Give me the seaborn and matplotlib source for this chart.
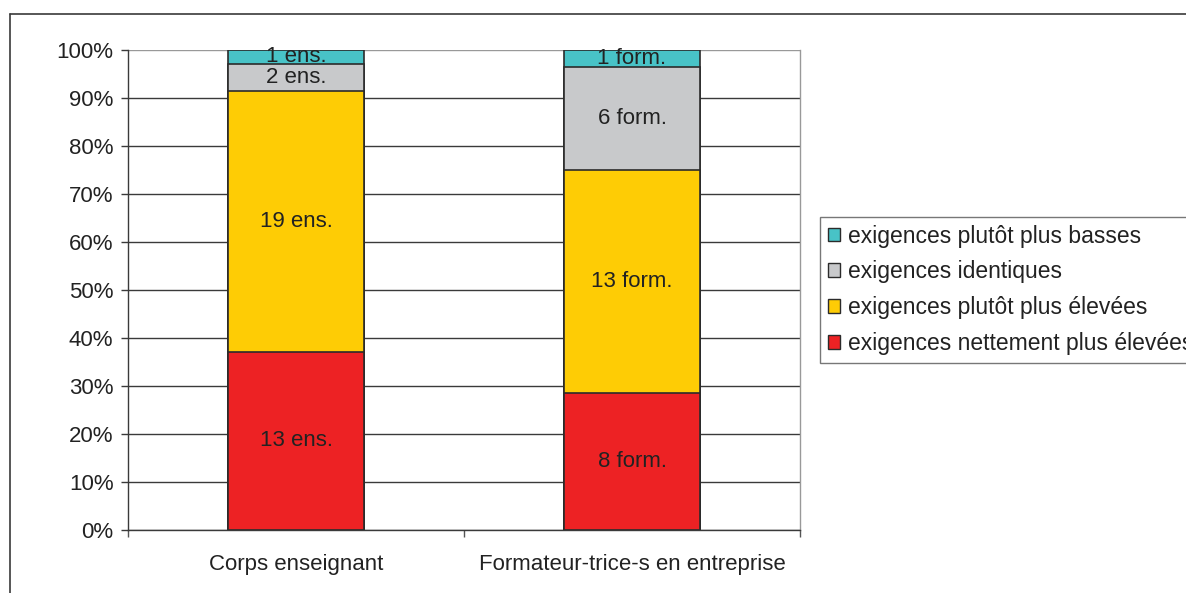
import matplotlib
matplotlib.use("Agg")
import matplotlib.pyplot as plt
import seaborn as sns
import pandas as pd
import numpy as np
from matplotlib.patches import Patch
from matplotlib.lines import Line2D

# ---- data ----
categories = ["Corps enseignant", "Formateur-trice-s en entreprise"]
unit_labels = ["ens.", "form."]
series_names = ["exigences nettement plus élevées", "exigences plutôt plus élevées",
                "exigences identiques", "exigences plutôt plus basses"]
nettement = [13, 8]
plutot_elevees = [19, 13]
identiques = [2, 6]
basses = [1, 1]
y_ticks = [0, 10, 20, 30, 40, 50, 60, 70, 80, 90, 100]

colors = ["#ED2224", "#FECC05", "#C8C9CB", "#48C3C7"]

counts = np.array([nettement, plutot_elevees, identiques, basses], dtype=float)
totals = counts.sum(axis=0)
pct = counts / totals * 100
cum = np.cumsum(pct, axis=0)

sns.set_theme(style="white")
plt.rcParams['font.family'] = ['Liberation Sans', 'DejaVu Sans']

fig = plt.figure(figsize=(11.86, 5.93), dpi=100)
ax = fig.add_axes([128/1186, 1-530/593, (800-128)/1186, (530-50)/593])

# grid lines
for t in y_ticks[:-1]:
    ax.axhline(t, color="#3a3a3a", lw=1.0, zorder=0)
ax.axhline(100, color="#999999", lw=1.0, zorder=0)

# stacked bars: draw cumulative from top down
for i in range(len(series_names) - 1, -1, -1):
    df = pd.DataFrame({"cat": categories, "val": cum[i]})
    sns.barplot(data=df, x="cat", y="val", color=colors[i], width=0.405,
                edgecolor="#2b2b2b", linewidth=1.2, ax=ax, zorder=2,
                saturation=1)

# segment labels
for j in range(len(categories)):
    for i in range(len(series_names)):
        lo = cum[i - 1][j] if i > 0 else 0
        mid = (lo + cum[i][j]) / 2
        ax.text(j, mid, f"{int(counts[i][j])} {unit_labels[j]}", ha="center",
                va="center", fontsize=16, color="#222222", zorder=3)

ax.set_xlim(-0.5, 1.5)
ax.set_ylim(0, 100)
ax.set_yticks(y_ticks)
ax.set_yticklabels([f"{t}%" for t in y_ticks])
ax.set_xticks([0, 1])
ax.set_xticklabels(categories)
ax.set_xticks([-0.5, 0.5, 1.5], minor=True)
ax.tick_params(axis="x", which="major", length=0, pad=17, labelsize=16, colors="#222222")
ax.tick_params(axis="x", which="minor", length=5, width=1, color="#555555", direction="out",
               bottom=True)
ax.tick_params(axis="y", which="major", length=5, width=1, color="#3a3a3a", direction="out",
               left=True, pad=5.5, labelsize=16, labelcolor="#222222")
ax.get_yticklines()[-2].set_color("#999999")
ax.set_xlabel("")
ax.set_ylabel("")

for s in ["left", "bottom"]:
    ax.spines[s].set_visible(True)
    ax.spines[s].set_color("#3a3a3a")
    ax.spines[s].set_linewidth(1.0)
ax.spines["top"].set_visible(False)
ax.spines["right"].set_visible(True)
ax.spines["right"].set_color("#999999")
ax.spines["right"].set_linewidth(1.0)

# legend
handles = [Patch(facecolor=colors[i], edgecolor="#2b2b2b", linewidth=1.0, label=series_names[i])
           for i in range(len(series_names) - 1, -1, -1)]
leg = fig.legend(handles=handles, loc="upper left", bbox_to_anchor=(820/1186, 1-217/593),
                 frameon=True, fancybox=False, shadow=False, fontsize=16.5,
                 handlelength=0.55, handleheight=0.55, handletextpad=0.35,
                 labelspacing=0.56, borderpad=0.33, borderaxespad=0)
leg.get_frame().set_edgecolor("#555555")
leg.get_frame().set_linewidth(1.0)
for t in leg.get_texts():
    t.set_color("#222222")

# outer frame
fig.add_artist(Line2D([10/1186, 10/1186], [0, 1-14/593], transform=fig.transFigure,
                      color="#3a3a3a", lw=1.2))
fig.add_artist(Line2D([10/1186, 1], [1-14/593, 1-14/593], transform=fig.transFigure,
                      color="#3a3a3a", lw=1.2))

fig.savefig("out.png", dpi=100)
